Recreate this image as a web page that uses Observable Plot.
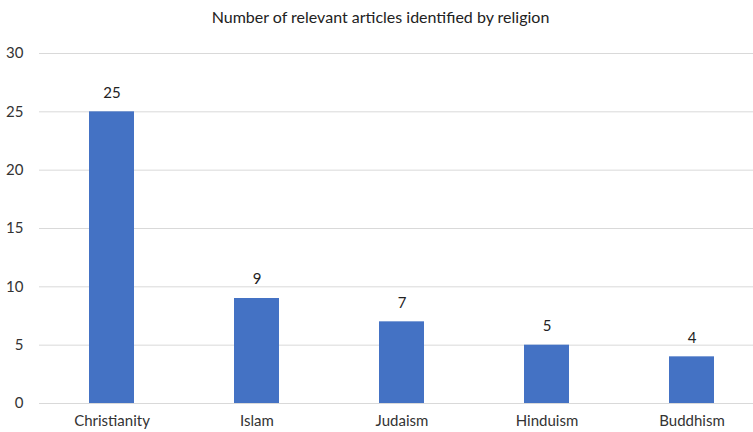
<!DOCTYPE html>
<html>
<head>
<meta charset="utf-8">
<script src="https://cdn.jsdelivr.net/npm/d3@7"></script>
<script src="https://cdn.jsdelivr.net/npm/@observablehq/plot@0.6"></script>
<style>
  body { margin: 0; background: #fff; }
  #wrap { position: relative; width: 753px; height: 432px; font-family: Lato, "Open Sans", sans-serif; }
  #title { position: absolute; top: 7px; left: 4px; width: 753px; text-align: center; font-size: 16px; color: #222; }
</style>
</head>
<body>
<div id="wrap">
  <div id="title">Number of relevant articles identified by religion</div>
</div>
<script>
const religions = ["Christianity", "Islam", "Judaism", "Hinduism", "Buddhism"];
const counts = [25, 9, 7, 5, 4];
const yTicks = [0, 5, 10, 15, 20, 25, 30];

const data = religions.map((r, i) => ({religion: r, count: counts[i]}));

const chart = Plot.plot({
  width: 753,
  height: 432,
  marginTop: 53,
  marginBottom: 29,
  marginLeft: 39,
  marginRight: -11,
  style: {fontFamily: "Lato, 'Open Sans', sans-serif", fontSize: "15px", color: "#333", background: "transparent"},
  x: {domain: religions, paddingInner: 0.69, paddingOuter: 0.345, label: null, tickSize: 0, tickPadding: 12},
  y: {domain: [0, 30], ticks: yTicks, label: null, tickSize: 0, tickPadding: 16},
  marks: [
    Plot.gridY(yTicks, {stroke: "#d9d9d9", strokeOpacity: 1}),
    Plot.barY(data, {x: "religion", y: "count", fill: "#4472C4"}),
    Plot.text(data, {x: "religion", y: "count", text: d => String(d.count), dy: -19, fill: "#222", fontSize: 15}),
    Plot.axisX({tickSize: 0, tickPadding: 12, fontSize: 15}),
    Plot.axisY(yTicks, {tickSize: 0, tickPadding: 16, fontSize: 15})
  ]
});
document.getElementById("wrap").prepend(chart);
chart.style.position = "absolute";
chart.style.top = "0";
chart.style.left = "0";
</script>
</body>
</html>
